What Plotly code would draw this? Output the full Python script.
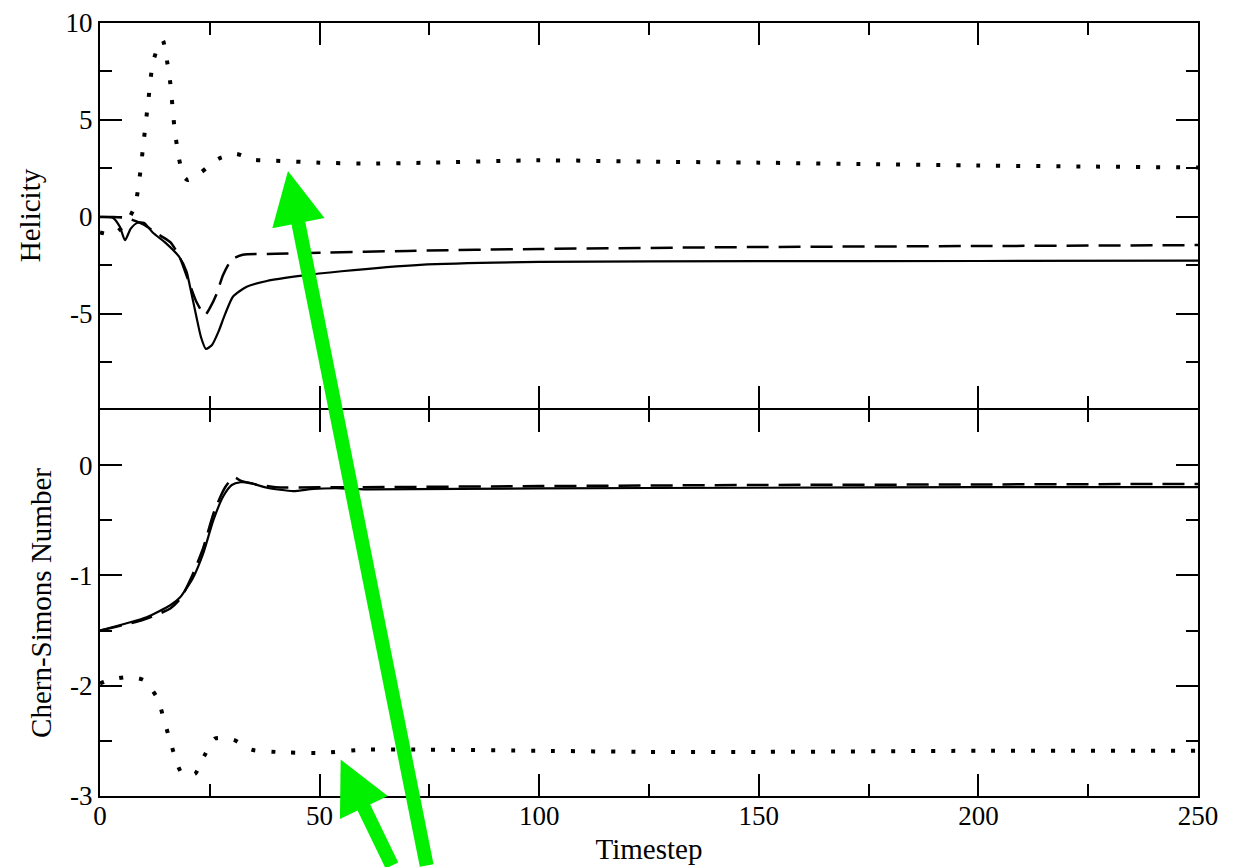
import plotly.graph_objects as go

# ---- data ----
hel_solid_t = [0, 3, 4.5, 5.7, 7, 8.5, 10, 12, 15, 18, 19.7, 20.5, 22, 23, 24.1, 25.5, 27, 28.5, 30.3, 33.4, 38, 45.5, 55, 72.9, 100, 150, 200, 250]
hel_solid_v = [0, -0.05, -0.5, -1.2, -0.6, -0.3, -0.3, -0.8, -1.35, -2.05, -2.8, -3.6, -5.2, -6.2, -6.8, -6.6, -5.9, -5.0, -4.1, -3.6, -3.3, -3.04, -2.8, -2.47, -2.32, -2.28, -2.27, -2.25]

hel_dash_t = [0, 3, 6, 8, 10, 12, 14, 16, 18, 20, 22, 23.9, 25, 26.5, 28, 30, 32.5, 40, 50, 70, 100, 150, 200, 250]
hel_dash_v = [0, 0, -0.05, -0.2, -0.4, -0.7, -1.0, -1.3, -2.0, -3.2, -4.4, -5.05, -4.7, -4.0, -3.0, -2.2, -1.95, -1.9, -1.85, -1.75, -1.65, -1.55, -1.5, -1.45]

hel_dot_t = [0, 3, 6, 8, 9, 10, 11, 12, 13.5, 14.3, 15, 16, 17, 18, 19, 20, 23, 27, 31, 35, 40, 50, 60, 75, 100, 125, 150, 175, 200, 225, 250]
hel_dot_v = [-0.8, -0.9, -0.3, 0.6, 2.0, 4.0, 6.0, 7.9, 8.95, 9.1, 8.4, 6.9, 4.5, 3.0, 2.1, 1.9, 2.3, 3.0, 3.25, 2.95, 2.9, 2.8, 2.75, 2.8, 2.92, 2.85, 2.8, 2.72, 2.65, 2.6, 2.55]

cs_solid_t = [0, 10.6, 16, 18.2, 21.2, 23.5, 25.8, 28.1, 30, 32, 34, 38, 44, 48.6, 55, 61.5, 100, 150, 200, 250]
cs_solid_v = [-1.5, -1.38, -1.27, -1.2, -1.02, -0.8, -0.5, -0.28, -0.18, -0.155, -0.16, -0.205, -0.235, -0.215, -0.21, -0.22, -0.21, -0.205, -0.2, -0.2]

cs_dash_t = [0, 10, 16, 18.5, 21, 23.5, 26, 28.5, 30.5, 32, 35, 40, 50, 60, 100, 150, 200, 250]
cs_dash_v = [-1.5, -1.4, -1.3, -1.2, -1.0, -0.75, -0.42, -0.2, -0.11, -0.14, -0.17, -0.2, -0.2, -0.2, -0.19, -0.18, -0.175, -0.17]

cs_dot_t = [0, 2, 6.5, 10, 13, 15.6, 18.6, 21.6, 23.7, 26.2, 30.4, 34.5, 40, 50, 60, 75, 100, 125, 150, 200, 250]
cs_dot_v = [-1.98, -1.95, -1.92, -1.95, -2.11, -2.45, -2.79, -2.8, -2.64, -2.48, -2.49, -2.58, -2.6, -2.61, -2.58, -2.58, -2.59, -2.6, -2.6, -2.59, -2.59]

x_ticks = [0, 50, 100, 150, 200, 250]
hel_ticks = [-5, 0, 5, 10]
cs_ticks = [-3, -2, -1, 0]

FONT = "Liberation Serif"
solid = dict(color="black", width=2.2)
dashed = dict(color="black", width=2.5, dash="22px,10px")
dotted = dict(color="black", width=4, dash="4px,16px")

fig = go.Figure()
fig.add_trace(go.Scatter(x=hel_solid_t, y=hel_solid_v, mode="lines", line=dict(shape="spline", smoothing=0.6, **solid), xaxis="x2", yaxis="y2"))
fig.add_trace(go.Scatter(x=hel_dash_t, y=hel_dash_v, mode="lines", line=dict(shape="spline", smoothing=0.6, **dashed), xaxis="x2", yaxis="y2"))
fig.add_trace(go.Scatter(x=hel_dot_t, y=hel_dot_v, mode="lines", line=dict(shape="spline", smoothing=0.6, **dotted), xaxis="x2", yaxis="y2"))
fig.add_trace(go.Scatter(x=cs_solid_t, y=cs_solid_v, mode="lines", line=dict(shape="spline", smoothing=0.6, **solid), xaxis="x", yaxis="y"))
fig.add_trace(go.Scatter(x=cs_dash_t, y=cs_dash_v, mode="lines", line=dict(shape="spline", smoothing=0.6, **dashed), xaxis="x", yaxis="y"))
fig.add_trace(go.Scatter(x=cs_dot_t, y=cs_dot_v, mode="lines", line=dict(shape="spline", smoothing=0.6, **dotted), xaxis="x", yaxis="y"))

axis_common = dict(showline=True, linecolor="black", linewidth=2, mirror="allticks",
                   ticks="inside", tickcolor="black", tickwidth=2, ticklen=22,
                   showgrid=False, zeroline=False, automargin=False,
                   tickfont=dict(family=FONT, size=27, color="black"))

top_bottom = 388 / 773
bot_top = 386 / 773
fig.update_layout(
    width=1241, height=867,
    margin=dict(l=100, r=43, t=23, b=71),
    paper_bgcolor="white", plot_bgcolor="white",
    showlegend=False,
    xaxis=dict(range=[0, 250], tickvals=x_ticks, ticktext=[str(v) for v in x_ticks], anchor="y",
               ticklabelstandoff=-5,
               minor=dict(dtick=25, ticklen=12, tickwidth=2, tickcolor="black", ticks="inside"),
               title=dict(text="Timestep", font=dict(family=FONT, size=29, color="black"), standoff=8),
               **axis_common),
    yaxis=dict(range=[-3, 0.5], tickvals=cs_ticks, ticktext=[str(v) for v in cs_ticks],
               domain=[0, bot_top], anchor="x",
               minor=dict(dtick=0.5, ticklen=12, tickwidth=2, tickcolor="black", ticks="inside"),
               title=dict(text="Chern-Simons Number", font=dict(family=FONT, size=29, color="black"), standoff=10),
               **axis_common),
    xaxis2=dict(range=[0, 250], tickvals=x_ticks, anchor="y2", showticklabels=False,
                minor=dict(dtick=25, ticklen=12, tickwidth=2, tickcolor="black", ticks="inside"),
                **axis_common),
    yaxis2=dict(range=[-9.85, 10], tickvals=hel_ticks, ticktext=[str(v) for v in hel_ticks],
                domain=[top_bottom, 1], anchor="x2",
                minor=dict(dtick=2.5, ticklen=12, tickwidth=2, tickcolor="black", ticks="inside"),
                title=dict(text="Helicity", font=dict(family=FONT, size=29, color="black"), standoff=16),
                **axis_common),
)

# green arrows
fig.add_annotation(x=42.8, y=2.37, xref="x2", yref="y2", ax=139, ay=720,
                   showarrow=True, arrowhead=2, arrowsize=0.76, arrowwidth=14,
                   arrowcolor="#00f000", text="")
fig.add_annotation(x=54.8, y=-2.67, xref="x", yref="y", ax=52, ay=130,
                   showarrow=True, arrowhead=2, arrowsize=0.76, arrowwidth=14,
                   arrowcolor="#00f000", text="")

fig.write_html("out.html")
